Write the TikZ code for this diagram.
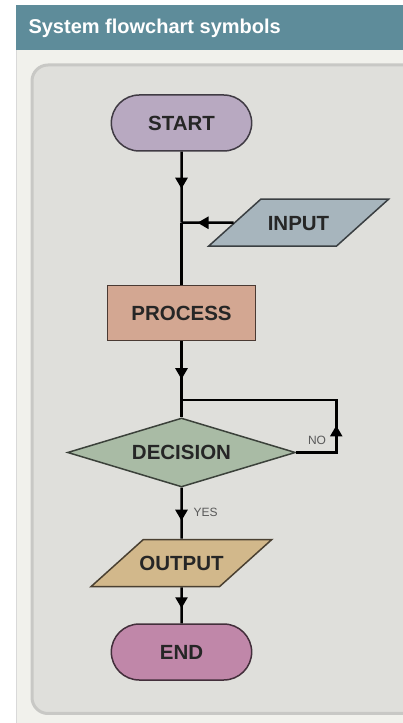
\documentclass[tikz,border=0pt]{standalone}
\usepackage{fontspec}
\setmainfont{Liberation Sans}
\usetikzlibrary{positioning,shapes.geometric,shapes.misc,arrows.meta,decorations.markings}
\definecolor{headbar}{HTML}{5E8C9A}
\definecolor{outerpanel}{HTML}{F1F1EC}
\definecolor{innerpanel}{HTML}{DFDFDB}
\definecolor{innerrim}{HTML}{C8C8C5}
\definecolor{startfill}{HTML}{B8A9C1}
\definecolor{inputfill}{HTML}{A7B5BD}
\definecolor{procfill}{HTML}{D3A792}
\definecolor{decfill}{HTML}{A9BBA5}
\definecolor{outputfill}{HTML}{D2B88B}
\definecolor{endfill}{HTML}{C087A9}
\begin{document}
\begin{tikzpicture}[x=1pt, y=1pt,
    box/.style = {draw=#1!35!black, fill=#1, line width=1.5pt, text=black!85,
      font=\fontsize{20.5}{24}\selectfont\bfseries},
    term/.style = {box=#1, rounded rectangle, minimum width=147pt, minimum height=56pt},
    proc/.style = {box=#1, rectangle, minimum width=148pt, minimum height=55pt},
    io/.style = {box=#1, trapezium, trapezium left angle=42, trapezium right angle=138,
      trapezium stretches body=true, text height=15pt, text depth=0pt,
      inner xsep=-4pt, inner ysep=16pt, minimum width=180pt, minimum height=47pt},
    dec/.style = {box=#1, diamond, aspect=3.3, inner sep=0pt, minimum width=228pt, minimum height=69pt},
    flow/.style = {line width=2.5pt, draw=black},
    midarrow/.style = {postaction={decorate}, decoration={markings,
      mark=at position #1 with {\arrow{Triangle[width=12pt,length=11pt]}}}},
    note/.style = {inner sep=0pt, text=black!65, font=\fontsize{12}{14}\selectfont}]
	% page and panels
	\useasboundingbox (0,0) rectangle (403,723);
	\clip (0,0) rectangle (403,723);
	\fill[white] (0,0) rectangle (403,723);
	\fill[outerpanel] (16,0) rectangle (403,673);
	\draw[black!15] (16.5,0) -- (16.5,673);
	\fill[headbar] (16,673) rectangle (403,718);
	\node[anchor=base west, text=white, font=\fontsize{20}{24}\selectfont\bfseries] (title) at (25,689) {System flowchart symbols};
	\draw[innerrim, fill=innerpanel, line width=3pt, rounded corners=16pt] (32,9.5) rectangle (440,658);
	% symbols
	\node[term=startfill] (start) at (181.5,600) {START};
	\coordinate[below=71pt of start] (jin);
	\node[io=inputfill] (input) [right=52pt of jin] {INPUT};
	\node[proc=procfill] (process) [below=133pt of start] {PROCESS};
	\node[dec=decfill] (decision) [below=76pt of process] {DECISION};
	\coordinate[above=17pt of decision] (jdec);
	\coordinate[right=40pt of decision.east] (loopse);
	\coordinate (loopne) at (loopse |- jdec);
	\node[io=outputfill] (output) [below=51pt of decision] {OUTPUT};
	\node[term=endfill] (end) [below=36pt of output] {END};
	\node[note, above left=8pt and 10pt of loopse] (nolab) {NO};
	\node[note, below right=20pt and 12pt of decision.south] (yeslab) {YES};
	% connectors
	\draw[flow, midarrow=37pt] (start) -- (jin);
	\draw[flow, midarrow=36pt] (input) -- (jin);
	\draw[flow] (jin) -- (process);
	\draw[flow, midarrow=38pt] (process) -- (jdec);
	\draw[flow] (jdec) -- (decision);
	\draw[flow, midarrow=67pt] (decision.east) -- (loopse) -- (loopne) -- (jdec);
	\draw[flow, midarrow=33pt] (decision) -- (output);
	\draw[flow, midarrow=21pt] (output) -- (end);
\end{tikzpicture}
\end{document}
